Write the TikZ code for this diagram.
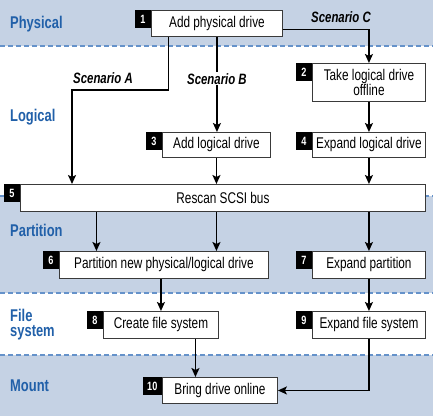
\documentclass[tikz,border=0pt]{standalone}
\usepackage{fontspec}
\setmainfont{Liberation Sans}
\newfontfamily\cond{Liberation Sans}[FakeStretch=0.76]
\usetikzlibrary{arrows.meta, positioning, calc}
\definecolor{flBand}{HTML}{C5D2E4}
\definecolor{flBlue}{HTML}{2160A9}
\definecolor{flDash}{HTML}{6592CA}
\definecolor{flEdge}{HTML}{3A3A3A}

\begin{document}
\begin{tikzpicture}[x=1pt, y=1pt,
      task/.style={draw=flEdge, fill=white, line width=0.9pt, minimum height=26pt,
                   inner sep=0pt, anchor=north west, align=center,
                   font=\cond\fontsize{15.5}{14}\selectfont},
      tag/.style={fill=black, text=white, minimum width=16pt, minimum height=18pt,
                  inner sep=0pt, font=\cond\bfseries\fontsize{12}{12}\selectfont},
      band/.style={text=flBlue, inner sep=0pt, align=left,
                   font=\cond\bfseries\fontsize{17}{14.5}\selectfont},
      scen/.style={inner sep=1pt, font=\cond\bfseries\itshape\fontsize{15}{15}\selectfont},
      link/.style={-{Stealth[length=9pt, width=8pt, inset=2pt]}, line width=1.6pt},
      sep/.style={flDash, line width=1.2pt, dash pattern=on 5pt off 3pt}]
    \useasboundingbox (0,0) rectangle (433,-416);
    % bands
    \fill[flBand] (0,0) rectangle (433,-46);
    \fill[flBand] (0,-196) rectangle (433,-293);
    \fill[flBand] (0,-355) rectangle (433,-416);
    \draw[sep] (0,-46) -- (433,-46);
    \draw[sep] (0,-196) -- (433,-196);
    \draw[sep] (0,-293) -- (433,-293);
    \draw[sep] (0,-355) -- (433,-355);
    \node[band, anchor=base west] (lPhys) at (10,-28) {Physical};
    \node[band, anchor=base west] (lLog) at (10,-121) {Logical};
    \node[band, anchor=base west] (lPart) at (10,-236) {Partition};
    \node[band, anchor=north west] (lFile) at (10,-309) {File\\system};
    \node[band, anchor=base west] (lMount) at (10,-391) {Mount};
    % steps
    \node[task, minimum width=131pt] (b1) at (151,-10) {Add physical drive};
    \node[tag, left=0pt of b1.north west, anchor=north east] (t1) {1};
    \node[task, minimum width=113pt, minimum height=38pt] (b2) at (312,-63)
      {Take logical drive\\offline};
    \node[tag, left=0pt of b2.north west, anchor=north east] (t2) {2};
    \node[task, minimum width=108pt, minimum height=25pt] (b3) at (162,-132) {Add logical drive};
    \node[tag, left=0pt of b3.north west, anchor=north east] (t3) {3};
    \node[task, minimum width=113pt, minimum height=25pt] (b4) at (312,-132) {Expand logical drive};
    \node[tag, left=0pt of b4.north west, anchor=north east] (t4) {4};
    \node[task, minimum width=405pt, minimum height=27pt] (b5) at (20,-184) {Rescan SCSI bus};
    \node[tag, left=0pt of b5.north west, anchor=north east] (t5) {5};
    \node[task, minimum width=209pt, minimum height=27pt] (b6) at (59,-251)
      {Partition new physical/logical drive};
    \node[tag, left=0pt of b6.north west, anchor=north east] (t6) {6};
    \node[task, minimum width=113pt, minimum height=27pt] (b7) at (312,-251) {Expand partition};
    \node[tag, left=0pt of b7.north west, anchor=north east] (t7) {7};
    \node[task, minimum width=115pt, minimum height=27pt] (b8) at (103,-311) {Create file system};
    \node[tag, left=0pt of b8.north west, anchor=north east] (t8) {8};
    \node[task, minimum width=113pt, minimum height=27pt] (b9) at (312,-311) {Expand file system};
    \node[tag, left=0pt of b9.north west, anchor=north east] (t9) {9};
    \node[task, minimum width=115pt] (b10) at (162,-377) {Bring drive online};
    \node[tag, minimum width=19pt, left=0pt of b10.north west, anchor=north east] (t10) {10};
    % scenarios
    \coordinate (kA) at (72,-90);
    \draw[link] ([xshift=-48.5]b1.south) |- (kA) -- (kA |- b5.north);
    \node[scen, anchor=base] (sA) at (103,-83) {Scenario A};
    \draw[link] (b1.south) -- node[scen, fill=white, pos=0.44] (sB) {Scenario B}
      (b1.south |- b3.north);
    \draw[link] ([yshift=-6]b1.east) -| (b2.north);
    \node[scen, anchor=base] (sC) at (341,-22) {Scenario C};
    % flow
    \draw[link] (b2.south) -- (b4.north);
    \draw[link] (b3.south) -- (b3.south |- b5.north);
    \draw[link] (b4.south) -- (b4.south |- b5.north);
    \draw[link] ([xshift=-67.5]b6.north |- b5.south) -- ([xshift=-67.5]b6.north);
    \draw[link] (b3.south |- b5.south) -- (b3.south |- b6.north);
    \draw[link] (b7.north |- b5.south) -- (b7.north);
    \draw[link] (b8.north |- b6.south) -- (b8.north);
    \draw[link] (b7.south) -- (b9.north);
    \draw[link] ([xshift=34.5]b8.south) -- ([xshift=34.5]b8.south |- b10.north);
    \draw[link] (b9.south) |- (b10.east);
  \end{tikzpicture}
\end{document}
